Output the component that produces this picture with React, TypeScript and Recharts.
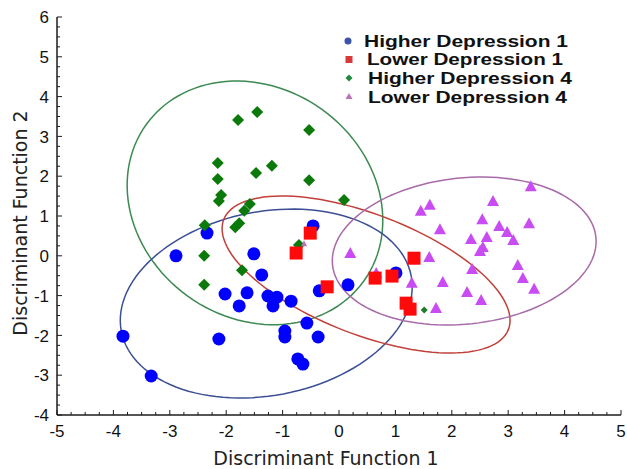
import { ScatterChart, Scatter, XAxis, YAxis, Customized, Label } from 'recharts';

// axis ticks (labelled, quarter-step minor ticks are added between)
const xTicks = [-5, -4, -3, -2, -1, 0, 1, 2, 3, 4, 5];
const yTicks = [-4, -3, -2, -1, 0, 1, 2, 3, 4, 5, 6];

const groupNames = ['Higher Depression 1', 'Lower Depression 1', 'Higher Depression 4', 'Lower Depression 4'];

// discriminant scores [fn1, fn2]
const higherDep1: [number, number][] = [
  [-3.83, -2.02], [-3.33, -3.02], [-2.89, 0.0], [-2.34, 0.57], [-2.13, -2.09], [-2.02, -0.96],
  [-1.77, -1.26], [-1.63, -0.93], [-1.51, 0.05], [-1.37, -0.48], [-1.26, -1.01], [-1.1, -1.04],
  [-1.17, -1.26], [-0.85, -1.14], [-0.46, 0.75], [-0.35, -0.88], [-0.57, -1.69], [-0.96, -1.89],
  [-0.96, -2.04], [-0.37, -2.04], [-0.73, -2.59], [-0.64, -2.72], [0.16, -0.73], [1.01, -0.43],
];
const lowerDep1: [number, number][] = [
  [-0.51, 0.57], [-0.76, 0.07], [-0.21, -0.78], [0.64, -0.56], [0.94, -0.51], [1.33, -0.06],
  [1.19, -1.19], [1.26, -1.34],
];
const higherDep4: [number, number][] = [
  [-1.79, 3.41], [-1.45, 3.61], [-0.53, 3.16], [-2.15, 2.33], [-2.15, 1.93], [-1.47, 2.08],
  [-1.19, 2.26], [-0.53, 1.9], [-2.09, 1.53], [-2.13, 1.38], [-1.58, 1.3], [-1.68, 1.13],
  [-1.77, 0.82], [-1.84, 0.72], [-2.38, 0.77], [0.09, 1.4], [-2.39, 0.0], [-2.39, -0.73],
  [-1.72, -0.36], [-0.71, 0.27],
];
const higherDep4Small: [number, number][] = [[1.51, -1.36]];
const lowerDep4: [number, number][] = [
  [3.4, 1.75], [1.61, 1.28], [1.45, 1.13], [2.73, 1.38], [2.54, 0.92], [2.84, 0.75], [3.37, 0.82],
  [2.98, 0.6], [1.79, 0.67], [2.34, 0.42], [2.62, 0.47], [3.09, 0.4], [2.55, 0.22], [2.5, 0.12],
  [0.2, 0.07], [1.6, -0.03], [3.17, -0.23], [2.36, -0.33], [3.26, -0.56], [1.29, -0.68],
  [1.84, -0.66], [3.46, -0.83], [2.27, -0.91], [2.52, -1.11], [1.72, -1.31], [0.66, -0.43],
];
const lowerDep4Small: [number, number][] = [[-0.62, 0.3]];

// confidence ellipses: centre + two conjugate semi-axes, data units
const higherDep1Ellipse = { c: [-1.29, -1.2], u: [2.57, 0.694], v: [0.305, -2.27] };
const lowerDep1Ellipse = { c: [0.48, -0.47], u: [2.524, -1.38], v: [-0.384, -1.409] };
const higherDep4Ellipse = { c: [-1.49, 1.33], u: [1.927, -1.97], v: [-1.193, -2.343] };
const lowerDep4Ellipse = { c: [2.22, 0.12], u: [2.335, 0.35], v: [0.136, -1.826] };

const AXIS = '#1c1c1c';
const TICK_FONT = '"Liberation Sans", Arial, sans-serif';
const TITLE_FONT = '"DejaVu Sans", Verdana, sans-serif';

const toPts = (arr: [number, number][]) => arr.map(([x, y]) => ({ x, y }));

function ellipsePts(e: { c: number[]; u: number[]; v: number[] }) {
  const out = [];
  for (let i = 0; i <= 120; i++) {
    const t = (i / 120) * Math.PI * 2;
    out.push({
      x: e.c[0] + e.u[0] * Math.cos(t) + e.v[0] * Math.sin(t),
      y: e.c[1] + e.u[1] * Math.cos(t) + e.v[1] * Math.sin(t),
    });
  }
  return out;
}

const withMinor = (ticks: number[]) =>
  ticks.flatMap((t, i) => (i < ticks.length - 1 ? [t, t + 0.25, t + 0.5, t + 0.75] : [t]));

const isMajor = (v: number) => Math.abs(v - Math.round(v)) < 1e-6;

const BottomTick = ({ x, y, payload }: any) => {
  const major = isMajor(payload.value);
  return (
    <g>
      <line x1={x} x2={x} y1={y} y2={y - (major ? 5 : 3)} stroke={AXIS} strokeWidth={1} />
      {major && (
        <text x={x} y={y + 22} textAnchor="middle" fontSize={17} fontFamily={TICK_FONT} fill="#111">
          {payload.value}
        </text>
      )}
    </g>
  );
};

const TopTick = ({ x, y, payload }: any) => (
  <line x1={x} x2={x} y1={y} y2={y + (isMajor(payload.value) ? 5 : 3)} stroke={AXIS} strokeWidth={1} />
);

const LeftTick = ({ x, y, payload }: any) => {
  const major = isMajor(payload.value);
  return (
    <g>
      <line x1={x} x2={x + (major ? 5 : 3)} y1={y} y2={y} stroke={AXIS} strokeWidth={1} />
      {major && (
        <text x={x - 8} y={y} dy="0.36em" textAnchor="end" fontSize={17} fontFamily={TICK_FONT} fill="#111">
          {payload.value}
        </text>
      )}
    </g>
  );
};

const RightTick = ({ x, y, payload }: any) => (
  <line x1={x} x2={x - (isMajor(payload.value) ? 5 : 3)} y1={y} y2={y} stroke={AXIS} strokeWidth={1} />
);

const Circle = (r: number, fill: string) => ({ cx, cy }: any) => <circle cx={cx} cy={cy} r={r} fill={fill} />;
const Square = (s: number, fill: string) => ({ cx, cy }: any) => (
  <rect x={cx - s / 2} y={cy - s / 2} width={s} height={s} fill={fill} />
);
const Diamond = (s: number, fill: string) => ({ cx, cy }: any) => (
  <polygon points={`${cx},${cy - s} ${cx + s},${cy} ${cx},${cy + s} ${cx - s},${cy}`} fill={fill} />
);
const Triangle = (w: number, h: number, fill: string) => ({ cx, cy }: any) => (
  <polygon points={`${cx},${cy - h / 2 - 1} ${cx + w / 2},${cy + h / 2} ${cx - w / 2},${cy + h / 2}`} fill={fill} />
);
const NoDot = () => <g />;

const legendRows = [
  { y: 47, w: 204, x: 364, mark: (y: number) => <circle cx={348} cy={y - 6} r={3.5} fill="#3a55a8" /> },
  { y: 65, w: 196, x: 367, mark: (y: number) => <rect x={345.5} y={y - 9} width={7} height={7} fill="#d83a3a" /> },
  { y: 84, w: 204, x: 368, mark: (y: number) => <polygon points={`349,${y - 9.5} 352.5,${y - 6} 349,${y - 2.5} 345.5,${y - 6}`} fill="#1e8a3a" /> },
  { y: 103, w: 199, x: 368, mark: (y: number) => <polygon points={`349,${y - 10} 352.5,${y - 4} 345.5,${y - 4}`} fill="#b872b8" /> },
];

const LegendBlock = () => (
  <g>
    {legendRows.map((r, i) => (
      <g key={groupNames[i]}>
        {r.mark(r.y)}
        <text
          x={r.x}
          y={r.y}
          fontSize={16}
          fontWeight="bold"
          fontFamily={TICK_FONT}
          fill="#111"
          textLength={r.w}
          lengthAdjust="spacingAndGlyphs"
        >
          {groupNames[i]}
        </text>
      </g>
    ))}
  </g>
);

export default function App() {
  return (
    <div style={{ position: 'fixed', left: 0, top: 0, background: '#fff' }}>
      <ScatterChart width={627} height={469} margin={{ top: 17, right: 6, bottom: 0, left: 0 }}>
        <XAxis
          type="number"
          dataKey="x"
          domain={[-5, 5]}
          ticks={withMinor(xTicks)}
          interval={0}
          allowDataOverflow
          tick={<BottomTick />}
          tickLine={false}
          tickSize={0}
          tickMargin={0}
          height={54}
          axisLine={{ stroke: AXIS, strokeWidth: 1.5 }}
        >
          <Label
            content={() => (
              <text x={326} y={465} textAnchor="middle" fontSize={19} fontFamily={TITLE_FONT} fill="#222">
                Discriminant Function 1
              </text>
            )}
          />
        </XAxis>
        <XAxis
          xAxisId="top"
          orientation="top"
          type="number"
          domain={[-5, 5]}
          ticks={withMinor(xTicks)}
          interval={0}
          allowDataOverflow
          tick={<TopTick />}
          tickLine={false}
          tickSize={0}
          tickMargin={0}
          height={0}
          axisLine={{ stroke: AXIS, strokeWidth: 1.5 }}
        />
        <YAxis
          type="number"
          dataKey="y"
          domain={[-4, 6]}
          ticks={withMinor(yTicks)}
          interval={0}
          allowDataOverflow
          tick={<LeftTick />}
          tickLine={false}
          tickSize={0}
          tickMargin={0}
          width={57}
          axisLine={{ stroke: AXIS, strokeWidth: 1.5 }}
        >
          <Label
            content={() => (
              <text
                x={20}
                y={223}
                transform="rotate(-90 20 223)"
                dy="0.36em"
                textAnchor="middle"
                fontSize={19}
                fontFamily={TITLE_FONT}
                fill="#222"
              >
                Discriminant Function 2
              </text>
            )}
          />
        </YAxis>
        <YAxis
          yAxisId="right"
          orientation="right"
          type="number"
          domain={[-4, 6]}
          ticks={withMinor(yTicks)}
          interval={0}
          allowDataOverflow
          tick={<RightTick />}
          tickLine={false}
          tickSize={0}
          tickMargin={0}
          width={0}
          axisLine={{ stroke: AXIS, strokeWidth: 1.5 }}
        />

        <Scatter data={ellipsePts(higherDep4Ellipse)} line={{ stroke: '#3c8a52', strokeWidth: 1.5 }} lineType="joint" shape={NoDot} isAnimationActive={false} />
        <Scatter data={ellipsePts(higherDep1Ellipse)} line={{ stroke: '#3b4f95', strokeWidth: 1.5 }} lineType="joint" shape={NoDot} isAnimationActive={false} />
        <Scatter data={ellipsePts(lowerDep1Ellipse)} line={{ stroke: '#c2403a', strokeWidth: 1.5 }} lineType="joint" shape={NoDot} isAnimationActive={false} />
        <Scatter data={ellipsePts(lowerDep4Ellipse)} line={{ stroke: '#a86aa8', strokeWidth: 1.5 }} lineType="joint" shape={NoDot} isAnimationActive={false} />

        <Scatter name={groupNames[0]} data={toPts(higherDep1)} shape={Circle(6.5, '#0000ff')} isAnimationActive={false} />
        <Scatter name={groupNames[2]} data={toPts(higherDep4)} shape={Diamond(6, '#0b7a0b')} isAnimationActive={false} />
        <Scatter data={toPts(higherDep4Small)} shape={Diamond(3.5, '#1e7a2e')} isAnimationActive={false} />
        <Scatter name={groupNames[3]} data={toPts(lowerDep4)} shape={Triangle(12, 10, '#c94cf2')} isAnimationActive={false} />
        <Scatter data={toPts(lowerDep4Small)} shape={Triangle(6, 5, '#b872b8')} isAnimationActive={false} />
        <Scatter name={groupNames[1]} data={toPts(lowerDep1)} shape={Square(13, '#ff0a0a')} isAnimationActive={false} />

        <Customized component={LegendBlock} />
      </ScatterChart>
    </div>
  );
}
